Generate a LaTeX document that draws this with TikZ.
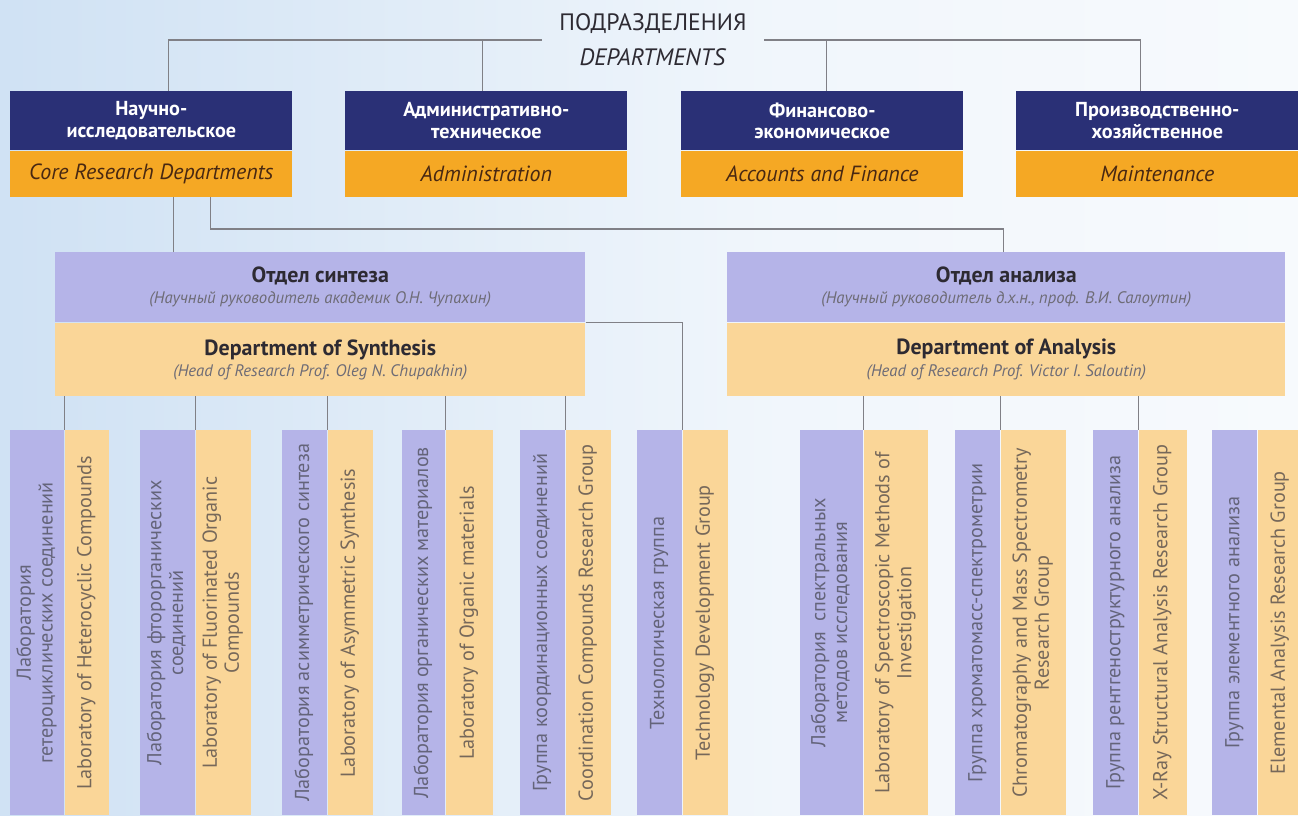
\documentclass[tikz,border=0pt]{standalone}
\usepackage{fontspec}
\usepackage{graphicx}
\setmainfont{PT Sans}
\usetikzlibrary{positioning,calc}

\definecolor{navy}{RGB}{42,48,118}
\definecolor{gold}{RGB}{245,168,36}
\definecolor{lav}{RGB}{181,180,232}
\definecolor{peach}{RGB}{250,214,152}
\definecolor{linegray}{RGB}{128,128,134}
\definecolor{inkbrown}{RGB}{72,40,18}
\definecolor{inkdark}{RGB}{45,42,50}
\definecolor{inksub}{RGB}{110,108,118}
\definecolor{inklav}{RGB}{100,100,122}
\definecolor{inkpeach}{RGB}{118,104,90}
\definecolor{skyb}{RGB}{184,211,238}

\pgfdeclarehorizontalshading{sky}{100bp}{color(0bp)=(skyb); color(30bp)=(skyb!60!white); color(55bp)=(skyb!20!white); color(100bp)=(white)}

% rotated multi-line text for the lab columns
\newcommand{\vtext}[1]{\rotatebox{90}{\begin{tabular}{@{}c@{}}#1\end{tabular}}}

\tikzset{
	link/.style={draw=linegray, line width=0.8pt},
	heading/.style={font=\fontsize{13.5}{15}\selectfont, text=inkdark, align=center, inner xsep=0.35cm, inner ysep=0pt},
	topru/.style={fill=navy, text=white, font=\bfseries\fontsize{11.5}{12.5}\selectfont, align=center, minimum width=5.64cm, minimum height=1.18cm, inner sep=0pt, anchor=north west},
	topen/.style={fill=gold, text=inkbrown, font=\itshape\fontsize{12.5}{14}\selectfont, minimum width=5.64cm, minimum height=0.92cm, inner sep=0pt},
	depru/.style={fill=lav, text=inkdark, align=center, minimum height=1.4cm, inner sep=0pt, anchor=north west},
	depen/.style={fill=peach, text=inkdark, align=center, minimum height=1.46cm, inner sep=0pt},
	labru/.style={fill=lav, text=inklav, font=\fontsize{11.5}{12.5}\selectfont, minimum height=7.7cm, inner sep=0pt, anchor=north west},
	laben/.style={fill=peach, text=inkpeach, font=\fontsize{11.5}{12.5}\selectfont, minimum height=7.7cm, inner sep=0pt},
}

\newcommand{\depname}[1]{{\bfseries\fontsize{12.5}{14}\selectfont #1}}
\newcommand{\depnote}[1]{{\itshape\fontsize{9.5}{12}\selectfont\color{inksub}#1}}

\begin{document}
\begin{tikzpicture}[x=0.02cm, y=-0.02cm]

	\useasboundingbox (0,0) rectangle (1298,815);
	\clip (0,0) rectangle (1298,815);
	\shade[shading=sky] (0,0) rectangle (1298,815);

	% heading
	\node[heading] (deps) at (653,40) {ПОДРАЗДЕЛЕНИЯ\\[5pt]\textit{DEPARTMENTS}};

	% top level departments
	\node[topru] (sci) at (10,91) {Научно-\\исследовательское};
	\node[topen, below=0pt of sci] (scien) {Core Research Departments};

	\node[topru] (adm) at (345,91) {Административно-\\техническое};
	\node[topen, below=0pt of adm] (admen) {Administration};

	\node[topru] (fin) at (681,91) {Финансово-\\экономическое};
	\node[topen, below=0pt of fin] (finen) {Accounts and Finance};

	\node[topru] (mnt) at (1016,91) {Производственно-\\хозяйственное};
	\node[topen, below=0pt of mnt] (mnten) {Maintenance};

	\draw[link] ($(sci.north)+(17,0)$) |- (deps.west);
	\draw[link] ($(adm.north)+(-4,0)$) |- (deps.west);
	\draw[link] ($(fin.north)+(4,0)$) |- (deps.east);
	\draw[link] ($(mnt.north)+(-17,0)$) |- (deps.east);

	% synthesis and analysis
	\node[depru, minimum width=10.6cm] (syn) at (55,252)
		{\depname{Отдел синтеза}\\[0pt]\depnote{(Научный руководитель академик О.Н. Чупахин)}};
	\node[depen, minimum width=10.6cm, below=0pt of syn] (synen)
		{\depname{Department of Synthesis}\\[0pt]\depnote{(Head of Research Prof. Oleg N. Chupakhin)}};

	\node[depru, minimum width=11.16cm] (ana) at (727,252)
		{\depname{Отдел анализа}\\[0pt]\depnote{(Научный руководитель д.х.н., проф. В.И. Салоутин)}};
	\node[depen, minimum width=11.16cm, below=0pt of ana] (anaen)
		{\depname{Department of Analysis}\\[0pt]\depnote{(Head of Research Prof. Victor I. Saloutin)}};

	\coordinate (s1) at ($(scien.south)+(22,0)$);
	\coordinate (s2) at ($(scien.south)+(59,0)$);
	\draw[link] (s1) -- (s1 |- syn.north);
	\draw[link] (s2) |- ($(ana.north)+(-3,-23)$) -- ($(ana.north)+(-3,0)$);

	% labs of the synthesis department
	\node[labru, minimum width=1.08cm] (hetru) at (10,430) {\vtext{Лаборатория\\гетероциклических соединений}};
	\node[laben, minimum width=0.88cm, right=0pt of hetru] (heten) {\vtext{Laboratory of Heterocyclic Compounds}};

	\node[labru, minimum width=1.1cm] (fluru) at (140,430) {\vtext{Лаборатория фторорганических\\соединений}};
	\node[laben, minimum width=1.1cm, right=0pt of fluru] (fluen) {\vtext{Laboratory of Fluorinated Organic\\Compounds}};

	\node[labru, minimum width=0.9cm] (asyru) at (282,430) {\vtext{Лаборатория асимметрического синтеза}};
	\node[laben, minimum width=0.9cm, right=0pt of asyru] (asyen) {\vtext{Laboratory of Asymmetric Synthesis}};

	\node[labru, minimum width=0.86cm] (orgru) at (402,430) {\vtext{Лаборатория органических материалов}};
	\node[laben, minimum width=0.94cm, right=0pt of orgru] (orgen) {\vtext{Laboratory of Organic materials}};

	\node[labru, minimum width=0.9cm] (corru) at (520,430) {\vtext{Группа координационных соединений}};
	\node[laben, minimum width=0.9cm, right=0pt of corru] (coren) {\vtext{Coordination Compounds Research Group}};

	\node[labru, minimum width=0.9cm] (tecru) at (637,430) {\vtext{Технологическая группа}};
	\node[laben, minimum width=0.9cm, right=0pt of tecru] (tecen) {\vtext{Technology Development Group}};

	\draw[link] (hetru.north east |- synen.south) -- (hetru.north east);
	\draw[link] (fluru.north east |- synen.south) -- (fluru.north east);
	\draw[link] (asyru.north east |- synen.south) -- (asyru.north east);
	\draw[link] (orgru.north east |- synen.south) -- (orgru.north east);
	\draw[link] (corru.north east |- synen.south) -- (corru.north east);
	\draw[link] (syn.south east) -| (tecru.north east);

	% labs of the analysis department
	\node[labru, minimum width=1.26cm] (spcru) at (800,430) {\vtext{Лаборатория\ \ спектральных\\методов исследования}};
	\node[laben, minimum width=1.28cm, right=0pt of spcru] (spcen) {\vtext{Laboratory of Spectroscopic Methods of\\Investigation}};

	\node[labru, minimum width=0.9cm] (chrru) at (955,430) {\vtext{Группа хроматомасс-спектрометрии}};
	\node[laben, minimum width=1.3cm, right=0pt of chrru] (chren) {\vtext{Chromatography and Mass Spectrometry\\Research Group}};

	\node[labru, minimum width=0.9cm] (xrru) at (1093,430) {\vtext{Группа рентгеноструктурного анализа}};
	\node[laben, minimum width=0.96cm, right=0pt of xrru] (xren) {\vtext{X-Ray Structural Analysis Research Group}};

	\node[labru, minimum width=0.9cm] (elmru) at (1212,430) {\vtext{Группа элементного анализа}};
	\node[laben, minimum width=0.9cm, right=0pt of elmru] (elmen) {\vtext{Elemental Analysis Research Group}};

	\draw[link] (spcru.north east |- anaen.south) -- (spcru.north east);
	\draw[link] (chrru.north east |- anaen.south) -- (chrru.north east);
	\draw[link] (xrru.north east |- anaen.south) -- (xrru.north east);
	\draw[link] ($(elmru.north)+(11,0)$ |- anaen.south) -- ($(elmru.north)+(11,0)$);

\end{tikzpicture}
\end{document}
